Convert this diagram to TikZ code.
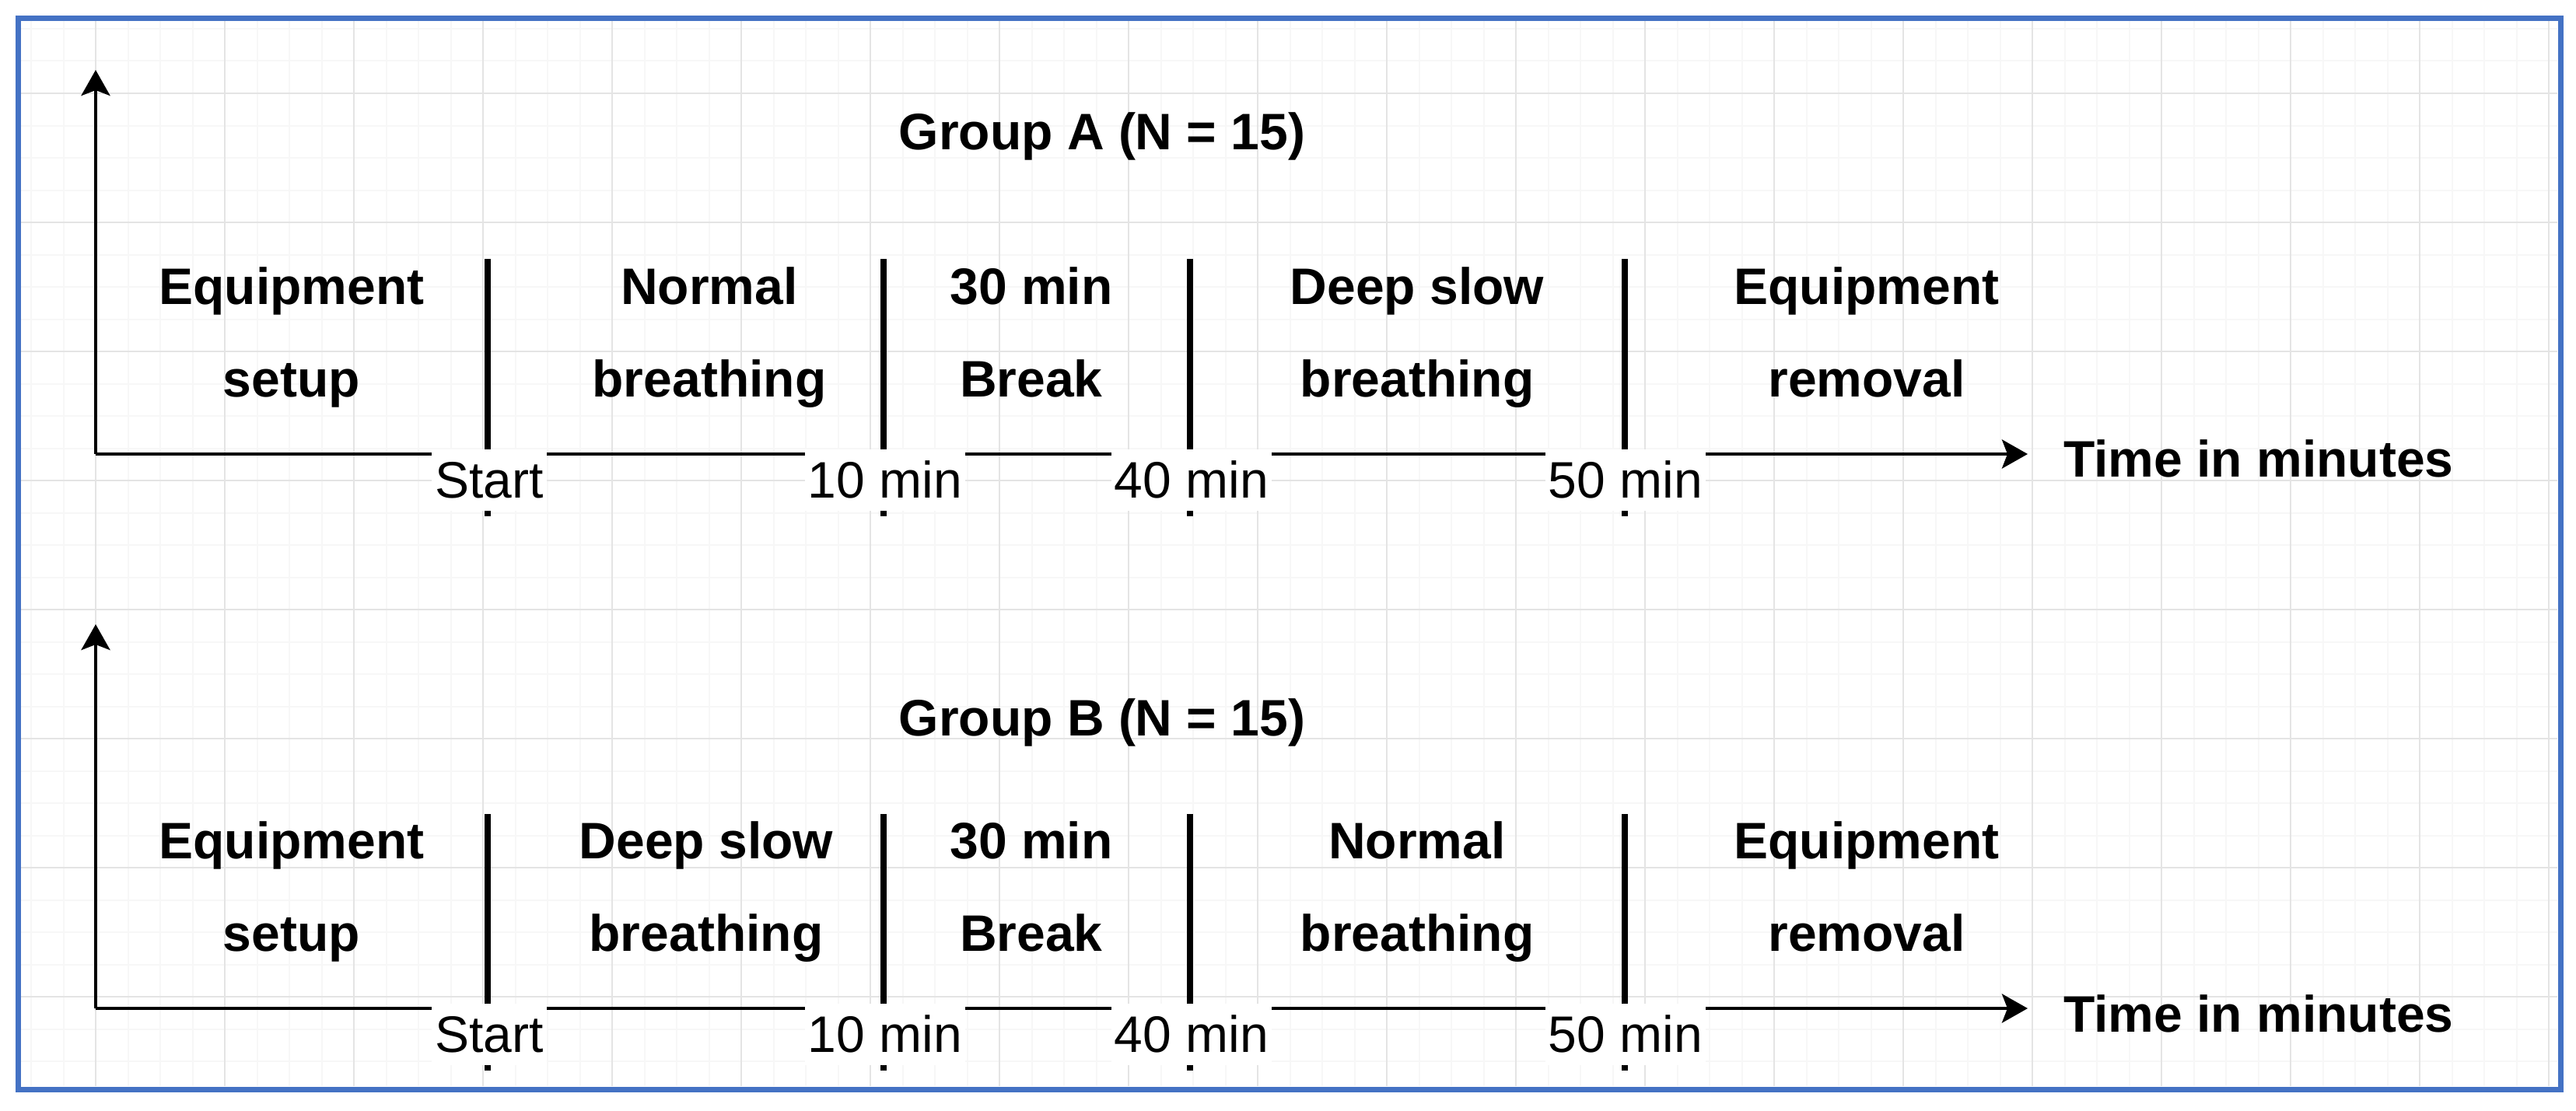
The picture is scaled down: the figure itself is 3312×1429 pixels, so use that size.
\documentclass[tikz,border=0pt]{standalone}
\usepackage{fontspec}
\setmainfont{Liberation Sans}
\usetikzlibrary{arrows.meta}
\definecolor{frameblue}{RGB}{68,114,196}
\definecolor{gmajor}{RGB}{228,228,228}
\definecolor{gminor}{RGB}{247,247,247}
\tikzset{
  axisline/.style={line width=4.5pt, -{Stealth[length=33pt,width=37pt,inset=7pt]}},
  divider/.style={line width=8pt},
  phase/.style={font=\fontsize{66}{119}\selectfont\bfseries, align=center, anchor=base, inner sep=0pt},
  grouptitle/.style={font=\fontsize{66}{79}\selectfont\bfseries, anchor=base, inner sep=0pt},
  timelabel/.style={font=\fontsize{66}{79}\selectfont\bfseries, anchor=base west, inner sep=0pt},
  ticklabel/.style={font=\fontsize{66}{79}\selectfont, fill=white, inner ysep=0pt, inner xsep=4pt, text height=62pt, text depth=17pt, anchor=base},
  minorline/.style={gminor, line width=2pt},
  majorline/.style={gmajor, line width=2.5pt}
}
\begin{document}
\begin{tikzpicture}[x=1pt,y=-1pt]
\useasboundingbox (0,0) rectangle (3312,1429);
% grid
\begin{scope}
  \clip (27,27) rectangle (3288,1397);
  \foreach \i in {0,...,78} \draw[minorline] ({40+41.5*\i},27) -- ({40+41.5*\i},1397);
  \foreach \j in {0,...,32} \draw[minorline] (27,{37+41.5*\j}) -- (3288,{37+41.5*\j});
  \foreach \i in {0,...,19} \draw[majorline] ({123+166*\i},27) -- ({123+166*\i},1397);
  \foreach \j in {0,...,7} \draw[majorline] (27,{120+166*\j}) -- (3288,{120+166*\j});
\end{scope}
\draw[frameblue, line width=7pt] (23.5,23.5) rectangle (3292,1401);

% ---------------- Group A ----------------
\coordinate (oA) at (123,584);
\coordinate (yA) at (123,90);
\coordinate (xA) at (2607,584);
\draw[axisline] (oA) -- (yA);
\draw[axisline] (oA) -- (xA);
\coordinate (dA1t) at (627,333);  \coordinate (dA1b) at (627,664);
\coordinate (dA2t) at (1136,333); \coordinate (dA2b) at (1136,664);
\coordinate (dA3t) at (1530,333); \coordinate (dA3b) at (1530,664);
\coordinate (dA4t) at (2089,333); \coordinate (dA4b) at (2089,664);
\draw[divider] (dA1t) -- (dA1b);
\draw[divider] (dA2t) -- (dA2b);
\draw[divider] (dA3t) -- (dA3b);
\draw[divider] (dA4t) -- (dA4b);
\node[ticklabel] (lA1) at (629,640) {Start};
\node[ticklabel] (lA2) at (1138,640) {10 min};
\node[ticklabel] (lA3) at (1532,640) {40 min};
\node[ticklabel] (lA4) at (2090,640) {50 min};
\node[grouptitle] (tA) at (1417,192) {Group A (N = 15)};
\node[phase] (pA1) at (375,510) {Equipment\\setup};
\node[phase] (pA2) at (912,510) {Normal\\breathing};
\node[phase] (pA3) at (1326,510) {30 min\\Break};
\node[phase] (pA4) at (1822,510) {Deep slow\\breathing};
\node[phase] (pA5) at (2400,510) {Equipment\\removal};
\node[timelabel] (xlA) at (2653,613) {Time in minutes};

% ---------------- Group B ----------------
\coordinate (oB) at (123,1297);
\coordinate (yB) at (123,803);
\coordinate (xB) at (2607,1297);
\draw[axisline] (oB) -- (yB);
\draw[axisline] (oB) -- (xB);
\coordinate (dB1t) at (627,1047);  \coordinate (dB1b) at (627,1377);
\coordinate (dB2t) at (1136,1047); \coordinate (dB2b) at (1136,1377);
\coordinate (dB3t) at (1530,1047); \coordinate (dB3b) at (1530,1377);
\coordinate (dB4t) at (2089,1047); \coordinate (dB4b) at (2089,1377);
\draw[divider] (dB1t) -- (dB1b);
\draw[divider] (dB2t) -- (dB2b);
\draw[divider] (dB3t) -- (dB3b);
\draw[divider] (dB4t) -- (dB4b);
\node[ticklabel] (lB1) at (629,1353) {Start};
\node[ticklabel] (lB2) at (1138,1353) {10 min};
\node[ticklabel] (lB3) at (1532,1353) {40 min};
\node[ticklabel] (lB4) at (2090,1353) {50 min};
\node[grouptitle] (tB) at (1417,946) {Group B (N = 15)};
\node[phase] (pB1) at (375,1223) {Equipment\\setup};
\node[phase] (pB2) at (908,1223) {Deep slow\\breathing};
\node[phase] (pB3) at (1326,1223) {30 min\\Break};
\node[phase] (pB4) at (1822,1223) {Normal\\breathing};
\node[phase] (pB5) at (2400,1223) {Equipment\\removal};
\node[timelabel] (xlB) at (2653,1327) {Time in minutes};
\end{tikzpicture}
\end{document}
